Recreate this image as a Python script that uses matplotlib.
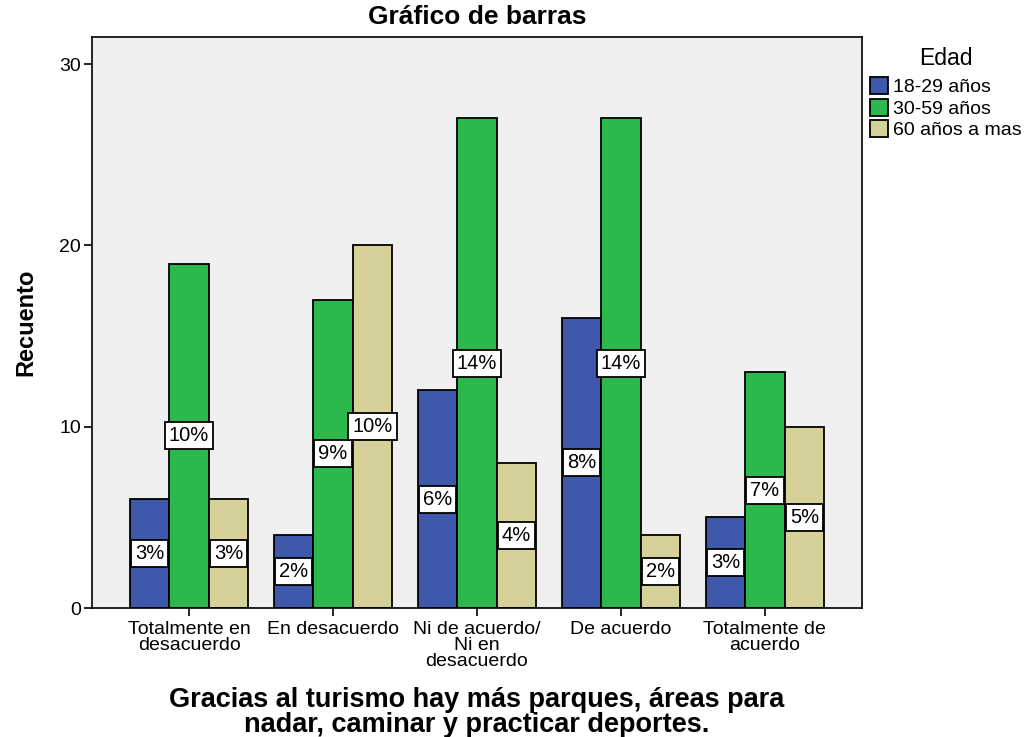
import numpy as np
import matplotlib
matplotlib.use("Agg")
import matplotlib.pyplot as plt

plt.rcParams["font.family"] = ["Liberation Sans", "DejaVu Sans"]

categories = ["Totalmente en\ndesacuerdo", "En desacuerdo", "Ni de acuerdo/\nNi en\ndesacuerdo",
              "De acuerdo", "Totalmente de\nacuerdo"]
series = ["18-29 años", "30-59 años", "60 años a mas"]
counts = {
    "18-29 años": [6, 4, 12, 16, 5],
    "30-59 años": [19, 17, 27, 27, 13],
    "60 años a mas": [6, 20, 8, 4, 10],
}
pct = {
    "18-29 años": ["3%", "2%", "6%", "8%", "3%"],
    "30-59 años": ["10%", "9%", "14%", "14%", "7%"],
    "60 años a mas": ["3%", "10%", "4%", "2%", "5%"],
}
colors = ["#3e58ac", "#2db84d", "#d6d09b"]

fig = plt.figure(figsize=(10.27, 7.37), dpi=100)
ax = fig.add_axes([0.0896, 0.175, 0.7497, 0.775])
ax.set_facecolor("#f0f0f0")

x = np.arange(len(categories))
w = 0.275
for i, (s, c) in enumerate(zip(series, colors)):
    pos = x + (i - 1) * w
    vals = counts[s]
    ax.bar(pos, vals, width=w, color=c, edgecolor="black", linewidth=1.3, label=s, zorder=2)
    for p, v, t in zip(pos, vals, pct[s]):
        ax.text(p, v / 2, t, ha="center", va="center", fontsize=14.5, zorder=3,
                bbox=dict(boxstyle="square,pad=0.2", facecolor="white", edgecolor="black", linewidth=1.3))

ax.set_xlim(-0.674, 4.674)
ax.set_ylim(0, 31.5)
ax.set_yticks([0, 10, 20, 30])
ax.set_xticks(x)
ax.set_xticklabels(categories, fontsize=14, linespacing=0.95)
ax.tick_params(axis="y", labelsize=14, length=6, width=1.2, pad=2)
ax.tick_params(axis="x", length=6, width=1.2, pad=3)
for sp in ax.spines.values():
    sp.set_linewidth(1.2)

ax.set_ylabel("Recuento", fontsize=17, fontweight="bold", labelpad=16)
ax.set_xlabel("Gracias al turismo hay más parques, áreas para\nnadar, caminar y practicar deportes.",
              fontsize=19.5, fontweight="bold", labelpad=12, linespacing=0.95)
ax.set_title("Gráfico de barras", fontsize=19, fontweight="bold", pad=9)

leg = ax.legend(title="Edad", loc="upper left", bbox_to_anchor=(1.0, 0.995), frameon=False,
                fontsize=14, title_fontsize=16.5, handlelength=0.95, handleheight=0.95,
                handletextpad=0.25, labelspacing=0.12, borderaxespad=0.2, borderpad=0.2)
leg._legend_box.sep = 5

fig.savefig("out.png", dpi=100)
